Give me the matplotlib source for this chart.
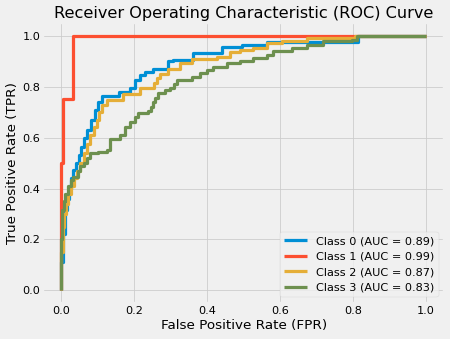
import matplotlib
matplotlib.use("Agg")
import matplotlib.pyplot as plt

plt.style.use("fivethirtyeight")

# ROC operating points (fpr, tpr) per class, corner points of each staircase
class0_fpr = [0.000, 0.000, 0.005, 0.011, 0.016, 0.022, 0.027, 0.033, 0.041, 0.047,
              0.055, 0.063, 0.071, 0.082, 0.093, 0.101, 0.111, 0.157, 0.189, 0.203,
              0.216, 0.230, 0.252, 0.293, 0.307, 0.362, 0.440, 0.495, 0.564, 0.815,
              1.000]
class0_tpr = [0.000, 0.110, 0.220, 0.315, 0.360, 0.400, 0.440, 0.472, 0.500, 0.530,
              0.565, 0.600, 0.630, 0.670, 0.709, 0.740, 0.764, 0.780, 0.795, 0.827,
              0.846, 0.858, 0.870, 0.899, 0.906, 0.933, 0.954, 0.965, 0.975, 1.000,
              1.000]

class1_fpr = [0.000, 0.000, 0.000, 0.005, 0.031, 1.000]
class1_tpr = [0.000, 0.250, 0.500, 0.750, 1.000, 1.000]

class2_fpr = [0.000, 0.000, 0.003, 0.008, 0.013, 0.019, 0.025, 0.034, 0.043, 0.052,
              0.061, 0.070, 0.079, 0.088, 0.097, 0.104, 0.110, 0.125, 0.170, 0.216,
              0.253, 0.262, 0.271, 0.293, 0.326, 0.358, 0.426, 0.463, 0.490, 0.526,
              0.564, 0.605, 0.673, 0.805, 1.000]
class2_tpr = [0.000, 0.150, 0.250, 0.300, 0.340, 0.380, 0.410, 0.440, 0.470, 0.500,
              0.540, 0.575, 0.610, 0.640, 0.670, 0.700, 0.728, 0.748, 0.772, 0.794,
              0.815, 0.835, 0.850, 0.870, 0.895, 0.909, 0.917, 0.935, 0.945, 0.953,
              0.970, 0.980, 0.990, 1.000, 1.000]

class3_fpr = [0.000, 0.000, 0.002, 0.006, 0.011, 0.018, 0.025, 0.033, 0.045, 0.052,
              0.061, 0.070, 0.079, 0.101, 0.125, 0.134, 0.162, 0.175, 0.189, 0.203,
              0.211, 0.238, 0.245, 0.250, 0.258, 0.266, 0.285, 0.299, 0.308, 0.317,
              0.358, 0.381, 0.399, 0.416, 0.454, 0.490, 0.526, 0.564, 0.581, 0.632,
              0.673, 0.718, 0.796, 0.810, 1.000]
class3_tpr = [0.000, 0.200, 0.315, 0.350, 0.380, 0.410, 0.433, 0.446, 0.470, 0.490,
              0.500, 0.520, 0.539, 0.545, 0.551, 0.594, 0.610, 0.642, 0.660, 0.682,
              0.697, 0.703, 0.720, 0.740, 0.756, 0.776, 0.787, 0.795, 0.810, 0.827,
              0.840, 0.854, 0.866, 0.879, 0.892, 0.900, 0.913, 0.925, 0.942, 0.951,
              0.965, 0.978, 0.984, 1.000, 1.000]

class_names = ["Class 0", "Class 1", "Class 2", "Class 3"]
auc_values = [0.89, 0.99, 0.87, 0.83]

curves = [(class0_fpr, class0_tpr), (class1_fpr, class1_tpr),
          (class2_fpr, class2_tpr), (class3_fpr, class3_tpr)]

DPI = 57.8
fig, ax = plt.subplots(figsize=(450 / DPI, 339 / DPI), dpi=DPI)
fig.subplots_adjust(left=0.096, right=0.987, top=0.932, bottom=0.106)

for (fpr, tpr), name, auc in zip(curves, class_names, auc_values):
    ax.plot(fpr, tpr, drawstyle="steps-post", label=f"{name} (AUC = {auc:.2f})")

ax.set_title("Receiver Operating Characteristic (ROC) Curve")
ax.set_xlabel("False Positive Rate (FPR)")
ax.set_ylabel("True Positive Rate (TPR)")
ax.legend(loc="lower right")

fig.savefig("out.png", dpi=DPI)
